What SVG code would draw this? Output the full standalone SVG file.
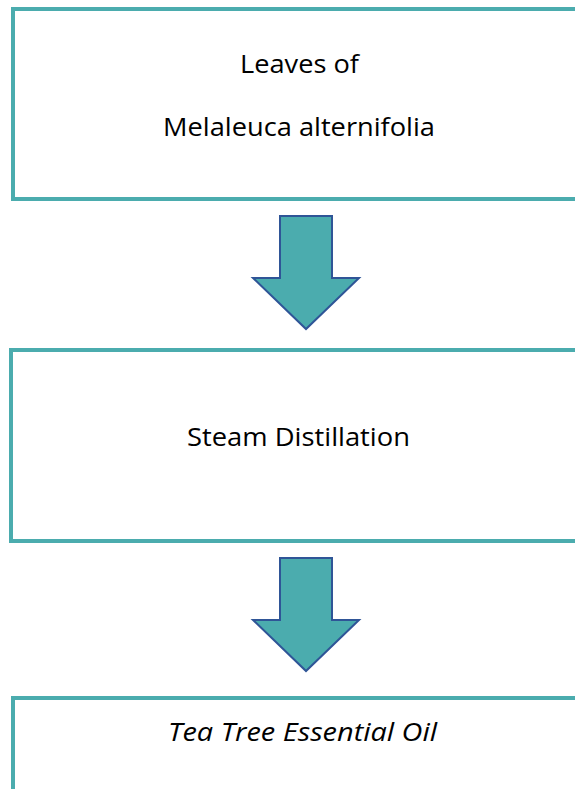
<svg xmlns="http://www.w3.org/2000/svg" width="575" height="789" viewBox="0 0 575 789">
<style>
.box{fill:#ffffff;stroke:#4BACAE;stroke-width:4}
.arr{fill:#4BACAE;stroke:#2F5597;stroke-width:2;stroke-linejoin:miter}
.t{font-family:"Open Sans","Noto Sans",sans-serif;font-size:25.5px;fill:#000;text-anchor:middle}
</style>
<rect width="575" height="789" fill="#ffffff"/>
<g id="node-leaves">
<rect class="box" x="13" y="9" width="572" height="190"/>
<text class="t" x="299.5" y="73" textLength="119" lengthAdjust="spacingAndGlyphs">Leaves of</text>
<text class="t" x="299" y="136" textLength="272" lengthAdjust="spacingAndGlyphs">Melaleuca alternifolia</text>
</g>
<g id="node-steam">
<rect class="box" x="11" y="350" width="574" height="191"/>
<text class="t" x="298.5" y="446" textLength="223" lengthAdjust="spacingAndGlyphs">Steam Distillation</text>
</g>
<g id="node-oil">
<rect class="box" x="13" y="698" width="572" height="120"/>
<text class="t" x="302.5" y="741" font-style="italic" textLength="269" lengthAdjust="spacingAndGlyphs">Tea Tree Essential Oil</text>
</g>
<g id="connectors">
<path class="arr" d="M280 216 H332 V278 H359 L306 329 L253 278 H280 Z"/>
<path class="arr" d="M280 558 H332 V620 H359 L306 671 L253 620 H280 Z"/>
</g>
</svg>
